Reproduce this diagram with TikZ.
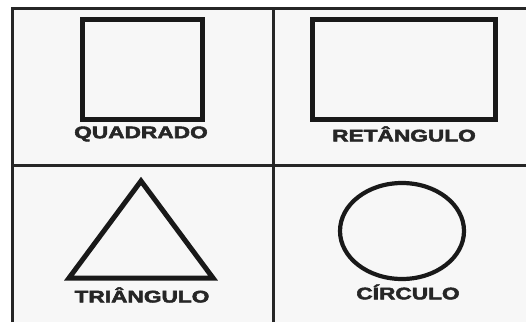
\documentclass[tikz,border=0pt]{standalone}
\usepackage{fontspec}
\setmainfont{Liberation Sans}
\newfontfamily\capfont[FakeBold=2.5]{Liberation Sans Bold}
\usetikzlibrary{positioning}
\begin{document}
\begin{tikzpicture}[x=1pt, y=1pt,
		frame/.style={line width=3pt, black!85},
		figure/.style={line width=5pt, black!90},
		caption/.style={font=\capfont\fontsize{16.8}{18}\selectfont, transform shape, xscale=1.35, inner sep=0pt, text=black!85}]
		\useasboundingbox (0,0) rectangle (526,322);
		% Define cells
		\fill[black!3] (12.5,0) rectangle (526,313);
		\draw[frame] (12.5,0) -- (12.5,313) -- (526,313);
		\draw[frame] (273,0) -- (273,313); \draw[frame] (12.5,157) -- (526,157);
		
		% Draw figures
		\draw[figure] (82,203) rectangle (202,302);
		\draw[figure] (312,203) rectangle (495,302);
		\draw[figure, line join=miter] (141,141) -- (213,44) -- (69,44) -- cycle;
		\draw[figure, line width=4.2pt] (402,91) ellipse (62 and 48);
		
		% Define captions
		\node[caption] (square) at (141,188) {QUADRADO}; \node[caption] (rect) at (404,188)
		{RETÂNGULO}; \node[caption] (triangle) at (142,27) {TRIÂNGULO}; \node[caption]
		(circle) at (408,30) {CÍRCULO};
	\end{tikzpicture}
\end{document}
